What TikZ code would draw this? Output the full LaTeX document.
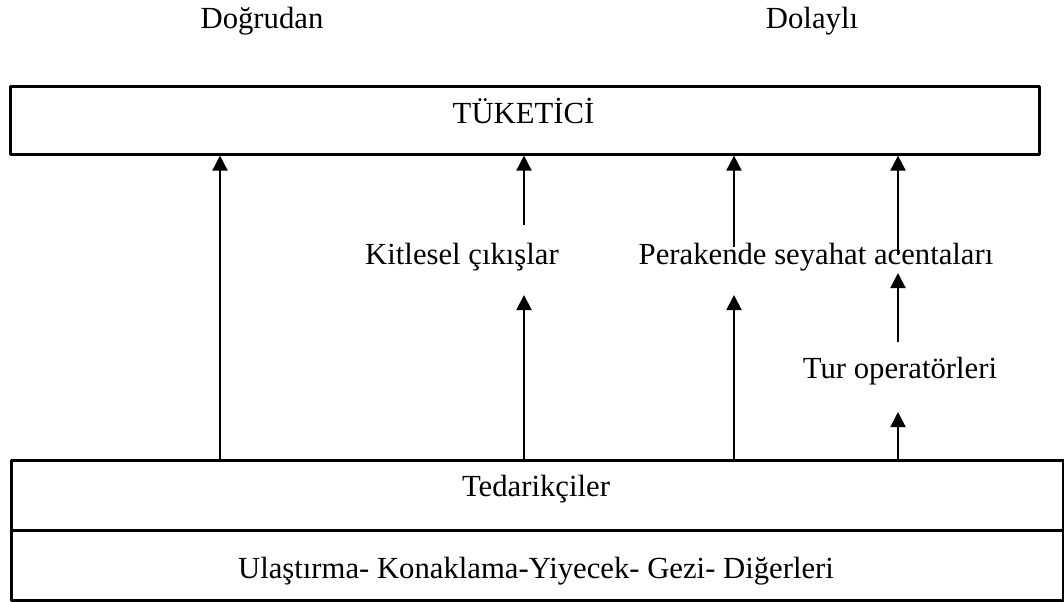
\documentclass[tikz,border=0pt]{standalone}
\usepackage{fontspec}
\setmainfont{Liberation Serif}
\usetikzlibrary{arrows.meta}
\begin{document}
\begin{tikzpicture}[x=0.5pt,y=-0.5pt,line join=round,>={Triangle[width=7.5pt,length=7.5pt]},font=\fontsize{15.35}{18}\selectfont]

	% Sayfa
	\useasboundingbox (0,0) rectangle (1064,601);
	
	% Stiller
	\tikzset{kutu/.style={draw,line width=1.3pt,inner sep=0pt,anchor=north west},
		ok/.style={->,line width=1pt}}
	
	% Kutular
	\node[kutu,minimum width=514.5pt,minimum height=34pt] (tuketici) at (9,85) {};
	\node[kutu,minimum width=526pt,minimum height=35pt] (tedarik) at (10,459) {};
	\node[kutu,minimum width=526pt,minimum height=35pt] (ulastirma) at (10,529) {};
	
	% Yazılar
	\node[anchor=base] (dogrudan) at (262,28) {Doğrudan};
	\node[anchor=base] (dolayli) at (812,28) {Dolaylı};
	\node[anchor=base] (tuketiciyazi) at (523.5,123) {TÜKETİCİ};
	\node[anchor=base] (kitle) at (462,264) {Kitlesel çıkışlar};
	\node[anchor=base] (perakende) at (816,264) {Perakende seyahat acentaları};
	\node[anchor=base] (tur) at (900,378) {Tur operatörleri};
	\node[anchor=base] (tedarikyazi) at (536,496) {Tedarikçiler};
	\node[anchor=base] (ulastirmayazi) at (536,578) {Ulaştırma- Konaklama-Yiyecek- Gezi- Diğerleri};
	
	% Ok uçları
	\coordinate (a1) at (524,295); \coordinate (a2) at (524,225);
	\coordinate (b1) at (734,295); \coordinate (b2) at (734,247);
	\coordinate (c1) at (898,412); \coordinate (c2) at (898,342);
	\coordinate (c3) at (898,273); \coordinate (c4) at (898,255);
	
	% Doğrudan ok
	\draw[ok] (tedarik.north -| 220,0) -- (tuketici.south -| 220,0);
	
	% Kitlesel çıkışlar
	\draw[ok] (tedarik.north -| a1) -- (a1);
	\draw[ok] (a2) -- (tuketici.south -| a2);
	
	% Perakende seyahat acentaları
	\draw[ok] (tedarik.north -| b1) -- (b1);
	\draw[ok] (b2) -- (tuketici.south -| b2);
	
	% Tur operatörleri
	\draw[ok] (tedarik.north -| c1) -- (c1);
	\draw[ok] (c2) -- (c3);
	\draw[ok] (c4) -- (tuketici.south -| c4);
	
\end{tikzpicture}
\end{document}
